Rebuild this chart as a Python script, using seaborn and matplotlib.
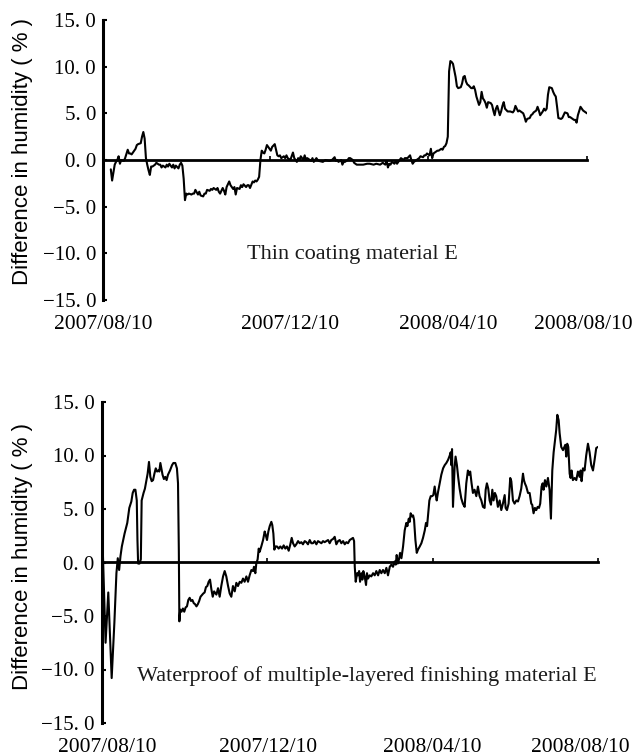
import matplotlib
matplotlib.use("Agg")
import matplotlib.pyplot as plt
import seaborn as sns

sns.set_theme(style="white")
plt.rcParams["font.family"] = ["Liberation Serif", "DejaVu Serif"]

# Days since 2007/08/10 and humidity difference (%) for the thin coating
top_day = [
    0, 1, 3, 4, 5, 6, 7, 8, 10, 11,
    13, 14, 15, 16, 18, 19, 20, 21, 23, 24,
    25, 26, 27, 28, 29, 30, 31, 32, 34, 35,
    37, 38, 39, 40, 42, 43, 44, 45, 47, 48,
    49, 50, 52, 53, 54, 55, 56, 57, 58, 59,
    60, 62, 63, 64, 65, 67, 68, 69, 71, 72,
    73, 74, 76, 77, 78, 79, 81, 82, 83, 84,
    86, 87, 88, 89,
    91, 92, 94, 95, 96, 97, 99, 100, 101, 102,
    104, 105, 106, 107, 109, 110, 111, 112, 113, 114,
    115, 116, 117, 118, 119, 120, 121, 122, 123, 124,
    126, 127, 128, 129, 130, 131, 133, 134, 135, 136,
    138, 139, 140, 141, 143, 144, 145, 146, 148, 149,
    150, 151, 153, 154, 155, 156, 158, 159, 160, 163,
    165, 168, 170, 172, 173, 174, 175, 177, 178, 179,
    180, 182, 183, 184, 186, 187, 188, 189, 192, 194,
    197, 199, 202, 204, 207, 209, 211, 212, 213, 214,
    215, 216, 218, 219, 220, 222, 223, 225, 226, 228,
    230, 231, 232, 233, 235, 236, 237, 238, 240, 241,
    242, 243, 245, 246, 247, 248, 249, 250, 251, 252,
    254, 255, 256, 257, 258, 259, 260, 261, 262, 263,
    264, 265, 266,
    267, 269, 270, 271, 272, 273, 274, 275, 277, 278,
    279, 280, 281, 283, 284, 285, 286, 287, 288, 289,
    290, 292, 293, 294, 295, 296, 297, 298, 299, 300,
    301, 302, 303, 305, 307, 309, 310, 311, 313, 314,
    315, 317, 318, 319, 320, 322, 323, 324, 325, 327,
    328, 329, 330, 332, 333, 334, 335, 336, 337, 339,
    340, 341, 342, 343, 344, 346, 347, 348, 349, 351,
    352, 353, 354, 356, 357, 358, 359, 361, 362, 363,
    364, 366,
]
top_diff = [
    -1.0, -2.2, -0.5, -0.2, 0.0, 0.4, -0.4, 0.0, -0.1, 0.2,
    1.1, 0.7, 0.7, 0.6, 1.0, 1.2, 1.6, 1.7, 1.8, 2.5,
    3.0, 2.3, 0.2, -0.5, -1.1, -1.6, -0.7, -0.7, -0.5, -0.3,
    -0.5, -0.5, -0.8, -0.6, -0.8, -0.5, -0.7, -0.4, -0.8, -0.5,
    -0.9, -0.6, -0.9, -0.5, -0.3, -0.6, -2.0, -4.3, -3.6, -3.7,
    -3.6, -3.7, -3.6, -3.6, -3.2, -3.7, -3.4, -3.8, -3.9, -3.6,
    -3.6, -3.2, -3.3, -3.1, -3.2, -3.0, -3.2, -3.0, -3.4, -3.6,
    -3.0, -3.3, -3.7, -2.9,
    -2.3, -2.7, -3.1, -2.9, -3.7, -3.0, -3.1, -2.7, -2.9, -2.6,
    -2.9, -2.7, -2.7, -3.0, -2.3, -2.4, -2.2, -2.3, -2.1, -1.8,
    0.0, 1.0, 0.8, 0.7, 1.1, 1.6, 1.4, 1.2, 1.0, 1.4,
    1.7, 1.1, 0.5, 0.4, 0.5, 0.2, 0.4, 0.2, 0.5, 0.2,
    0.0, 0.4, 0.8, 0.2, -0.2, 0.2, 0.0, 0.4, 0.0, 0.5,
    0.0, 0.2, 0.0, -0.1, 0.2, -0.2, 0.2, 0.0, -0.1, -0.2,
    0.0, -0.1, 0.0, 0.3, -0.1, 0.0, -0.2, 0.0, -0.5, -0.2,
    -0.2, 0.0, 0.2, 0.2, 0.0, -0.3, -0.4, -0.5, -0.5, -0.5,
    -0.4, -0.4, -0.5, -0.4, -0.5, -0.3, -0.5, -0.1, -0.8, -0.4,
    -0.5, -0.2, -0.4, -0.1, -0.4, 0.0, 0.2, 0.0, 0.2, 0.2,
    0.5, 0.0, -0.4, -0.2, 0.0, 0.1, 0.2, 0.4, 0.3, 0.5,
    0.5, 0.7, 0.5, 1.2, 0.2, 0.7, 0.8, 0.9, 1.0, 1.0,
    1.2, 1.1, 1.4, 1.5, 1.8, 2.5, 9.5, 10.6, 10.5, 10.3,
    9.6, 8.9, 7.9,
    7.7, 7.8, 8.2, 8.9, 9.0, 8.4, 8.1, 8.0, 7.7, 7.7,
    7.9, 7.5, 6.8, 5.9, 6.2, 7.3, 6.6, 6.4, 6.1, 5.6,
    6.2, 6.1, 5.9, 5.3, 4.8, 5.5, 5.8, 5.3, 4.8, 5.2,
    5.8, 6.2, 5.5, 5.2, 5.2, 5.1, 5.3, 5.8, 5.2, 5.3,
    5.2, 5.0, 4.6, 4.1, 4.4, 4.5, 4.8, 4.9, 5.1, 5.3,
    5.7, 5.3, 4.8, 5.2, 5.5, 5.3, 5.5, 7.0, 7.8, 7.7,
    7.3, 7.0, 6.8, 5.7, 4.5, 4.4, 4.5, 4.8, 5.1, 5.0,
    4.6, 4.6, 4.5, 4.3, 4.3, 4.0, 4.8, 5.7, 5.5, 5.3,
    5.2, 5.0,
]

# Days since 2007/08/10 and humidity difference (%) for the multi-layer finish
bottom_day = [
    0, 3, 5, 7.5, 9.5, 11, 12, 13, 14, 15,
    17, 19, 20.5, 22, 23, 24, 25, 26, 26.5, 27,
    28, 29, 29.6, 31, 32, 33, 34, 35, 36, 37,
    38, 39, 40, 41, 42, 42.6, 43.4, 44, 45, 46,
    47, 48, 49, 50.5, 52, 53, 54.4, 55.6, 56.4, 57,
    57.4, 58, 59, 60, 61, 62, 63, 64, 65, 66,
    67, 68, 69, 70, 71, 72, 73, 75, 76, 77,
    78, 79, 80, 81, 82, 83,
    84.7, 85.9, 87.1, 88.3, 89.6, 90.8, 92, 93.3, 94.5, 95.7,
    96.9, 98.2, 99.4, 100.6, 101.9, 103.1, 104.3, 105.5, 106.8, 108,
    109.2, 110.5, 111.7, 112.4, 113.4, 114.1, 115.1, 115.9, 116.6, 117.8,
    119.1, 120.3, 121, 122, 123, 124, 125.2, 125.9, 126.7, 127.4,
    128.4, 129.4, 130.6, 131.8, 133.1, 134.3, 135.5, 136.7, 138, 139.2,
    140.2, 141.2, 142.4, 143.6, 144.9, 146.1, 147.3, 148.5, 149.8, 151,
    152.2, 153.5, 154.7, 155.9, 157.1, 158.4, 159.6, 160.8, 162.1, 163.3,
    164.5, 165.7, 167, 168.2, 169.4, 170.7, 171.9, 173.1, 174.4, 175.6,
    176.8, 178.1, 179.3, 180.5, 181.7, 183, 184.2, 185.4, 186.2, 186.7,
    187.4, 188.4, 189.1, 189.9, 190.6, 191.6, 192.3, 193, 194, 195,
    195.7, 196.5, 197.7, 198.9, 200.2, 201.4, 202.6, 203.9, 205.1, 206.3,
    207.5, 208.8, 210, 211.2, 212.5, 213.7, 214.9, 216.1, 216.9, 217.6,
    218.4, 219.3, 220.1, 221.1, 222.3, 223.5, 224.7, 225.5, 226.5, 227.2,
    227.9, 228.9, 229.7, 230.4, 231.4, 232.4, 233.3, 234.6, 235.8, 237,
    238.3, 239.2, 240, 240.7, 241.7, 242.7, 243.7, 244.6, 245.6, 246.4,
    247.1, 248.1, 249.3, 250.5, 251.8, 253, 254.2, 255.5, 256.7, 257.4,
    257.9, 258.4, 259.1,
    260.3, 261, 262, 263, 264, 265.2, 266.4, 267.7, 268.9, 270.1,
    270.9, 271.8, 272.8, 273.8, 275, 276.3, 277.5, 278.7, 280, 281.2,
    282.4, 283.2, 284.1, 285.1, 286.1, 287.1, 288.1, 289, 290, 291,
    292.2, 293.5, 294.7, 295.9, 297.2, 297.9, 298.9, 300.1, 301.3, 302.1,
    303.3, 304.5, 305.8, 307, 308.2, 309.4, 310.7, 311.4, 312.1, 313.1,
    314.4, 315.6, 316.8, 317.5, 318.5, 319.5, 320.5, 321.5, 322.5, 323.4,
    324.4, 325.2, 325.9, 326.9, 327.9, 329.1, 330.3, 331.3, 332.3, 333.3,
    334.3, 335.2, 336, 337, 337.7, 338.9, 340.2, 340.9, 341.9, 342.6,
    343.3, 344.1, 345.1, 345.8, 346.5, 347.5, 348.8, 350, 351.2, 352.4,
    353.2, 353.9, 354.9, 356.1, 357.3, 358.6, 359.8, 361, 362.3, 363.5,
    364.7, 366,
]
bottom_diff = [
    5.1, -7.5, -2.8, -10.8, -5.6, -1.0, 0.4, -0.7, 0.6, 1.5,
    2.7, 3.7, 5.1, 5.7, 6.5, 6.8, 6.8, 5.8, 2.1, -0.1,
    -0.1, 0.3, 5.8, 6.5, 6.9, 7.6, 8.3, 9.4, 8.0, 7.6,
    7.7, 8.3, 8.8, 8.5, 8.6, 8.5, 9.3, 8.9, 8.2, 7.8,
    8.0, 7.7, 8.2, 8.6, 9.1, 9.3, 9.3, 8.8, 7.4, 1.2,
    -5.5, -4.4, -4.6, -4.3, -4.6, -4.2, -4.1, -3.5, -3.3, -3.6,
    -3.5, -3.8, -3.9, -4.1, -3.9, -3.6, -3.2, -2.9, -2.8, -2.3,
    -2.2, -1.8, -1.6, -2.5, -3.2, -2.7,
    -3.0, -2.4, -3.2, -2.2, -1.3, -0.8, -1.3, -2.2, -2.9, -3.2,
    -2.2, -2.7, -1.9, -2.2, -1.8, -1.9, -1.5, -1.8, -1.3, -1.8,
    -1.2, -0.7, -0.8, -0.4, -1.0, -0.1, 0.3, 1.3, 1.0, 1.5,
    2.1, 2.9, 2.6, 2.1, 2.9, 3.4, 3.8, 3.5, 2.7, 1.2,
    1.5, 1.5, 1.3, 1.5, 1.3, 1.6, 1.3, 1.5, 1.1, 1.7,
    2.3, 1.8, 1.5, 1.7, 2.0, 1.8, 1.9, 1.7, 2.0, 1.9,
    1.7, 2.1, 1.8, 1.8, 2.0, 1.7, 2.0, 1.9, 1.8, 2.0,
    1.9, 2.0, 2.1, 1.8, 2.1, 2.2, 2.4, 1.7, 2.0, 2.1,
    1.8, 2.0, 1.7, 1.9, 1.8, 2.1, 2.2, 2.3, 2.0, -0.4,
    -1.8, -1.0, -1.2, -0.8, -1.8, -1.0, -1.6, -0.8, -1.3, -2.1,
    -1.0, -1.5, -1.2, -1.3, -1.0, -1.2, -0.8, -1.2, -0.7, -1.0,
    -0.7, -1.0, -0.5, -1.2, -0.4, -0.2, -0.4, 0.1, -0.2, 0.7,
    -0.1, 0.3, 0.9, 0.4, 1.5, 3.0, 3.7, 3.4, 4.1, 3.8,
    4.6, 4.3, 4.4, 4.0, 2.1, 0.9, 1.2, 1.5, 1.8, 2.3,
    3.0, 3.7, 3.4, 4.4, 5.8, 6.2, 6.2, 6.3, 7.1, 6.3,
    5.8, 6.6, 7.4, 8.2, 8.8, 9.1, 9.3, 9.6, 10.0, 10.3,
    9.1, 10.6, 5.2,
    8.9, 9.9, 9.1, 7.9, 6.9, 6.0, 5.5, 5.2, 7.4, 8.6,
    8.2, 8.5, 7.4, 6.5, 6.8, 6.2, 7.1, 6.2, 5.8, 5.2,
    5.1, 6.8, 7.4, 6.9, 5.8, 5.4, 6.8, 5.8, 6.5, 6.2,
    5.2, 5.8, 4.9, 5.5, 6.3, 5.1, 4.9, 5.5, 7.9, 7.6,
    5.8, 5.5, 5.8, 5.7, 6.2, 6.9, 8.3, 7.7, 7.4, 7.1,
    6.5, 6.5, 5.5, 5.4, 4.6, 5.1, 4.9, 5.2, 5.1, 5.5,
    7.1, 7.4, 6.8, 7.7, 7.1, 7.9, 6.8, 4.1, 8.6, 10.3,
    11.4, 12.4, 13.8, 13.3, 12.1, 10.8, 10.5, 10.7, 11.0, 9.9,
    11.1, 10.8, 8.3, 7.9, 8.6, 7.7, 7.9, 7.7, 8.5, 8.0,
    8.6, 7.6, 8.8, 8.6, 10.0, 11.1, 10.3, 9.1, 8.6, 9.6,
    10.7, 10.8,
]

date_labels = ["2007/08/10", "2007/12/10", "2008/04/10", "2008/08/10"]
y_ticks = [-15, -10, -5, 0, 5, 10, 15]
y_title = "Difference in humidity ( % )"
panel_names = ["Thin coating material E",
               "Waterproof of multiple-layered finishing material E"]

assert len(top_day) == len(top_diff)
assert len(bottom_day) == len(bottom_diff)


def y_tick_text(v):
    return f"{v:.1f}".replace(".", ". ").replace("-", "\u2212")


def draw_panel(ax, days, diffs, label_days, name, name_xy, ylabel_xy):
    sns.lineplot(x=days, y=diffs, ax=ax, color="black", linewidth=1.5,
                 estimator=None, sort=False)
    ax.set_xlim(0, 366)
    ax.set_ylim(-15, 15)
    ax.set_facecolor("white")

    ax.set_yticks(y_ticks)
    ax.set_yticklabels([y_tick_text(v) for v in y_ticks])
    ax.tick_params(axis="y", direction="in", length=3, width=1.5, pad=5,
                   labelsize=15, colors="black", left=True)

    ax.set_xticks(label_days)
    ax.set_xticklabels(date_labels)
    ax.tick_params(axis="x", length=0, pad=11, labelsize=15.5, colors="black")

    for side in ["top", "right", "bottom"]:
        ax.spines[side].set_visible(False)
    ax.spines["left"].set_linewidth(2.2)
    ax.spines["left"].set_color("black")

    # horizontal axis through zero with small category ticks
    zero = ax.secondary_xaxis(0.5)
    zero.set_xticks([122, 244, 366])
    zero.tick_params(direction="out", length=3, width=1.2, color="black",
                     labelbottom=False, labeltop=False, top=True, bottom=False)
    for side in ["top", "bottom"]:
        zero.spines[side].set_linewidth(2.0)
        zero.spines[side].set_color("black")

    ax.set_ylabel(y_title, family=["Liberation Sans", "DejaVu Sans"],
                  fontsize=16, color="black")
    ax.yaxis.set_label_coords(*ylabel_xy)

    ax.text(name_xy[0], name_xy[1], name, ha="center", va="baseline",
            fontsize=16, color="#1a1a1a")


fig = plt.figure(figsize=(6.33, 7.56), dpi=100)
fig.patch.set_facecolor("white")
ax_top = fig.add_axes([103 / 633, 1 - 300 / 756, 484 / 633, 280 / 756])
ax_bot = fig.add_axes([101.5 / 633, 1 - 723 / 756, 496.5 / 633, 321 / 756])

draw_panel(ax_top, top_day, top_diff, [-6, 138, 259, 363],
           panel_names[0], (185.6, -10.6), (-0.145, 0.53))
draw_panel(ax_bot, bottom_day, bottom_diff, [4, 123, 244, 353],
           panel_names[1], (195.7, -11.1), (-0.138, 0.52))

fig.savefig("out.png", dpi=100, facecolor="white")
